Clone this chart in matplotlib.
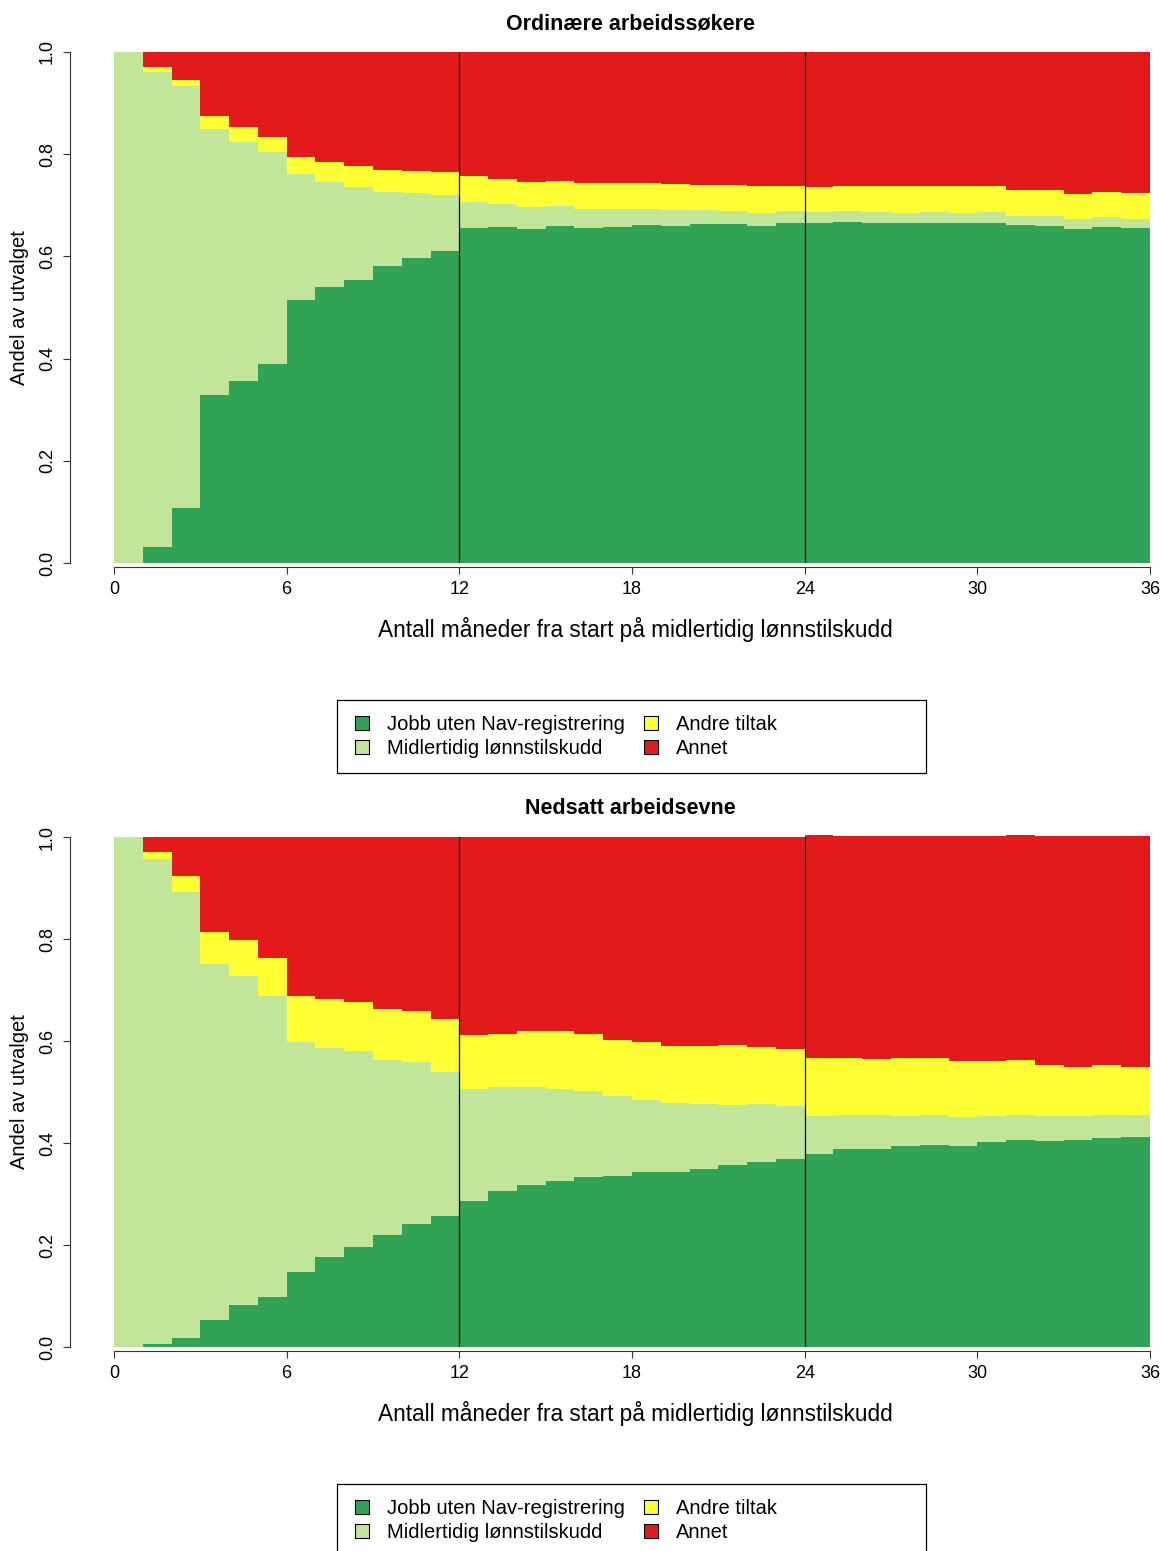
import matplotlib
matplotlib.use("Agg")
import matplotlib.pyplot as plt
from matplotlib.patches import Patch, Rectangle

plt.rcParams['font.family'] = ['Liberation Sans', 'DejaVu Sans']

# months since start (one bar per month)
months = list(range(36))

categories = ["Jobb uten Nav-registrering", "Midlertidig lønnstilskudd",
              "Andre tiltak", "Annet"]
colors = ["#31A354", "#C2E699", "#FFFF33", "#E31A1C"]

# Ordinære arbeidssøkere - share in each state per month
ord_jobb = [0.000, 0.031, 0.107, 0.328, 0.356, 0.389, 0.514, 0.540, 0.554, 0.581, 0.597, 0.610,
            0.656, 0.658, 0.654, 0.659, 0.656, 0.658, 0.661, 0.659, 0.663, 0.663, 0.659, 0.665,
            0.665, 0.667, 0.665, 0.665, 0.665, 0.665, 0.665, 0.661, 0.659, 0.654, 0.658, 0.656]
ord_midl = [1.000, 0.930, 0.826, 0.522, 0.468, 0.415, 0.247, 0.206, 0.182, 0.145, 0.127, 0.110,
            0.050, 0.045, 0.043, 0.040, 0.037, 0.035, 0.032, 0.032, 0.028, 0.026, 0.026, 0.024,
            0.022, 0.022, 0.022, 0.020, 0.022, 0.020, 0.022, 0.018, 0.020, 0.019, 0.019, 0.017]
ord_andre = [0.000, 0.010, 0.012, 0.025, 0.029, 0.029, 0.033, 0.039, 0.041, 0.043, 0.043, 0.045,
             0.051, 0.048, 0.049, 0.049, 0.051, 0.051, 0.051, 0.051, 0.049, 0.051, 0.053, 0.049,
             0.049, 0.049, 0.051, 0.053, 0.051, 0.053, 0.051, 0.051, 0.051, 0.049, 0.049, 0.051]
ord_annet = [0.000, 0.029, 0.055, 0.125, 0.147, 0.167, 0.206, 0.215, 0.223, 0.231, 0.233, 0.235,
             0.243, 0.249, 0.254, 0.252, 0.256, 0.256, 0.256, 0.258, 0.260, 0.260, 0.262, 0.262,
             0.264, 0.262, 0.262, 0.262, 0.262, 0.262, 0.262, 0.270, 0.270, 0.278, 0.274, 0.276]

# Nedsatt arbeidsevne
ned_jobb = [0.000, 0.005, 0.017, 0.053, 0.082, 0.099, 0.148, 0.176, 0.196, 0.220, 0.242, 0.256,
            0.286, 0.306, 0.318, 0.325, 0.333, 0.335, 0.343, 0.343, 0.349, 0.357, 0.363, 0.369,
            0.378, 0.388, 0.388, 0.394, 0.396, 0.394, 0.402, 0.406, 0.404, 0.406, 0.410, 0.412]
ned_midl = [1.000, 0.952, 0.875, 0.698, 0.646, 0.589, 0.451, 0.411, 0.385, 0.342, 0.316, 0.284,
            0.220, 0.204, 0.192, 0.181, 0.169, 0.157, 0.141, 0.135, 0.127, 0.118, 0.113, 0.104,
            0.075, 0.067, 0.067, 0.059, 0.059, 0.057, 0.051, 0.049, 0.049, 0.047, 0.045, 0.043]
ned_andre = [0.000, 0.014, 0.032, 0.063, 0.070, 0.075, 0.089, 0.096, 0.096, 0.100, 0.101, 0.104,
             0.106, 0.104, 0.110, 0.114, 0.112, 0.110, 0.114, 0.112, 0.114, 0.117, 0.112, 0.111,
             0.114, 0.112, 0.110, 0.114, 0.112, 0.110, 0.108, 0.108, 0.100, 0.096, 0.098, 0.094]
ned_annet = [0.000, 0.029, 0.076, 0.186, 0.202, 0.237, 0.312, 0.317, 0.323, 0.338, 0.341, 0.356,
             0.388, 0.386, 0.380, 0.380, 0.386, 0.398, 0.402, 0.410, 0.410, 0.408, 0.412, 0.416,
             0.436, 0.434, 0.436, 0.434, 0.434, 0.440, 0.440, 0.440, 0.448, 0.452, 0.448, 0.452]

x_ticks = [0, 6, 12, 18, 24, 30, 36]
y_ticks = [0.0, 0.2, 0.4, 0.6, 0.8, 1.0]
xlabel = "Antall måneder fra start på midlertidig lønnstilskudd"
ylabel = "Andel av utvalget"

W, H = 1164, 1551
fig = plt.figure(figsize=(W / 100, H / 100), dpi=100)


def px(x, y):
    # pixel (from top-left) -> figure fraction
    return x / W, 1 - y / H


def panel(top, bottom, title, series, legend_labels, legend_top):
    x0, y0 = px(114, bottom)
    x1, y1 = px(1150, top)
    ax = fig.add_axes([x0, y0, x1 - x0, y1 - y0])
    base = [0.0] * len(months)
    for vals, c in zip(series, colors):
        ax.bar(months, vals, width=1.0, bottom=base, align='edge', color=c,
               linewidth=0, antialiased=False, clip_on=False)
        base = [b + v for b, v in zip(base, vals)]
    for m in (12, 24):
        ax.axvline(m, color='black', lw=0.9)
    ax.set_xlim(0, 36)
    ax.set_ylim(0, 1)
    for s in ('top', 'right'):
        ax.spines[s].set_visible(False)
    ax.spines['left'].set_position(('outward', 31.7))
    ax.spines['bottom'].set_position(('outward', 3))
    ax.spines['left'].set_bounds(0, 1)
    ax.spines['bottom'].set_bounds(0, 36)
    for s in ('left', 'bottom'):
        ax.spines[s].set_linewidth(0.8)
        ax.spines[s].set_color('#333333')
    ax.set_xticks(x_ticks)
    ax.set_yticks(y_ticks)
    ax.set_yticklabels(["%.1f" % v for v in y_ticks])
    ax.tick_params(length=5, width=0.8, color='#333333', labelsize=13, pad=5)
    for lab in ax.get_yticklabels():
        lab.set_rotation(90)
        lab.set_va('center')
    tx, ty = px(630, top - 28)
    fig.text(tx, ty, title, ha='center', va='center', fontsize=15.5, fontweight='bold')
    lx, ly = px(635, bottom + 66)
    fig.text(lx, ly, xlabel, ha='center', va='center', fontsize=16.3)
    yx, yy = px(20, (top + bottom) / 2)
    fig.text(yx, yy, ylabel, ha='center', va='center', rotation=90, fontsize=14.5)

    # legend frame (fixed width like the original)
    fx0, fy0 = px(337, legend_top + 73)
    fx1, fy1 = px(926, legend_top)
    fig.patches.append(Rectangle((fx0, fy0), fx1 - fx0, fy1 - fy0, transform=fig.transFigure,
                                 facecolor='none', edgecolor='black', linewidth=0.9))
    handles = [Patch(facecolor=c, edgecolor='black', linewidth=0.8) for c in colors]
    ax0, ay0 = px(355, legend_top + 15)
    fig.legend(handles, legend_labels, ncol=2, loc='upper left',
               bbox_to_anchor=(ax0, ay0), fontsize=14.5, frameon=False,
               handlelength=0.7, handleheight=0.7, handletextpad=0.9,
               labelspacing=0.24, borderaxespad=0, borderpad=0, columnspacing=0.95)
    return ax


panel(52, 563, "Ordinære arbeidssøkere",
      [ord_jobb, ord_midl, ord_andre, ord_annet], categories, 700)
panel(837, 1347, "Nedsatt arbeidsevne",
      [ned_jobb, ned_midl, ned_andre, ned_annet], categories, 1484)

fig.savefig("out.png", dpi=100)
